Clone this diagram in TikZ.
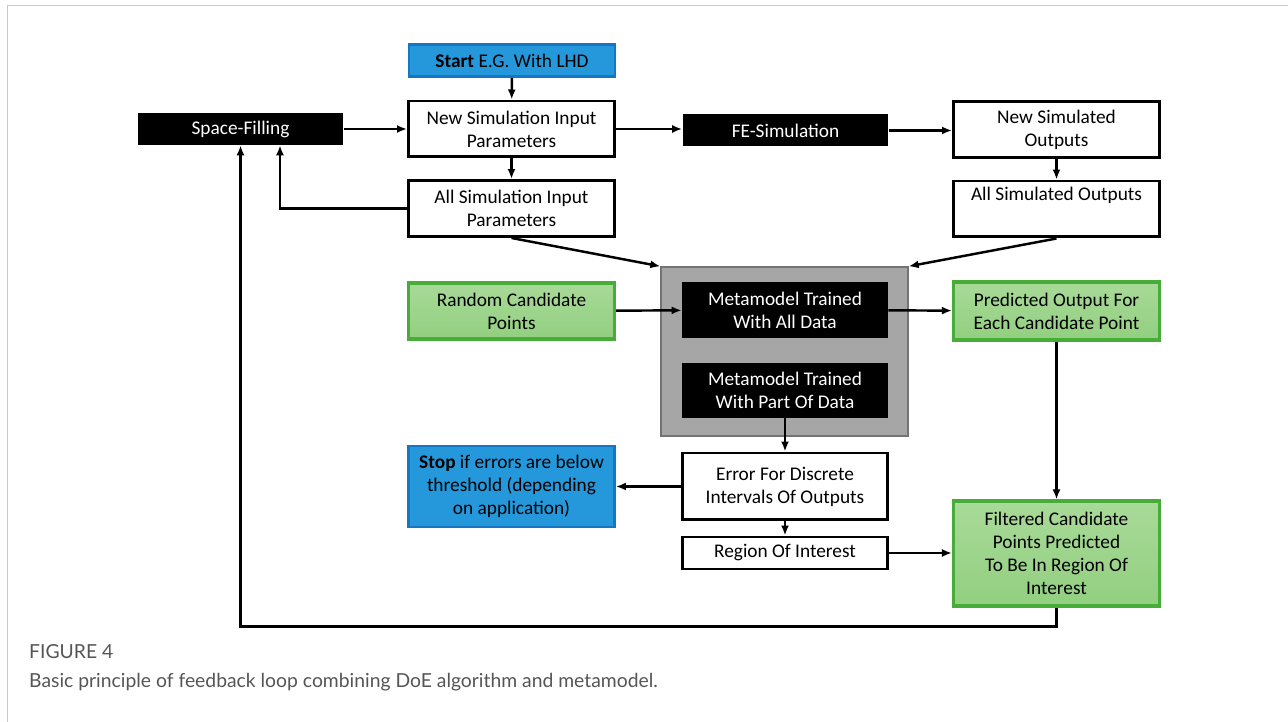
\documentclass[tikz,border=0pt]{standalone}
\usepackage{fontspec}
\setmainfont{Carlito}
\newfontfamily\capfont{Lato}
\usepackage{xcolor}
\usetikzlibrary{arrows.meta, positioning, calc}
\definecolor{startblue}{RGB}{36, 152, 218}
\definecolor{startblueline}{RGB}{22, 118, 196}
\definecolor{candgreen}{RGB}{146, 207, 128}
\definecolor{candgreentop}{RGB}{168, 218, 152}
\definecolor{candgreenline}{RGB}{72, 172, 56}
\definecolor{metagray}{RGB}{166, 166, 166}
\definecolor{metagrayline}{RGB}{115, 115, 115}
\definecolor{framegray}{RGB}{200, 200, 200}
\definecolor{captiongray}{RGB}{85, 85, 85}

\begin{document}
\begin{tikzpicture}[
        x=0.02cm, y=-0.02cm,
        font=\fontsize{11}{13}\selectfont,
        whitebox/.style={draw, line width=1.7pt, fill=white, minimum width=4.12cm, minimum height=1.12cm, align=center, inner sep=1pt},
        blackbox/.style={fill=black, text=white, minimum width=4.12cm, minimum height=0.64cm, align=center, inner sep=1pt},
        greenbox/.style={draw=candgreenline, line width=1.8pt, top color=candgreentop, bottom color=candgreen, minimum width=4.12cm, minimum height=1.12cm, align=center, inner sep=1pt},
        bluebox/.style={draw=startblueline, line width=1.6pt, fill=startblue, minimum width=4.12cm, minimum height=0.64cm, align=center, inner sep=1pt},
        arrow/.style={-{Latex[length=2mm, width=1.6mm]}, line width=1.4pt}
    ]
        \useasboundingbox (0,0) rectangle (1288,722);

        % page frame
        \draw[framegray, line width=1pt] (7.5,722) -- (7.5,5.5) -- (1288,5.5);

        % metamodel block (drawn first, as background)
        \node[draw=metagrayline, line width=0.8pt, fill=metagray, minimum width=4.94cm, minimum height=3.38cm] (meta) at (784.5,351.5) {};

        % input side
        \node[bluebox] (start) at (512,60.5) {\textbf{Start} E.G. With LHD};
        \node[blackbox] (space) at (240.5,129) {Space-Filling};
        \node[whitebox] (newin) at (511.5,129) {New Simulation Input\\Parameters};
        \node[whitebox] (allin) at (511.5,208.5) {All Simulation Input\\Parameters};

        % simulation side
        \node[blackbox] (fe) at (785.5,130.5) {FE-Simulation};
        \node[whitebox] (newout) at (1056.5,129.5) {New Simulated\\Outputs};
        \node[whitebox] (allout) at (1056.5,209) {All Simulated Outputs\\\strut};

        % metamodels
        \node[blackbox, minimum height=1.12cm] (metaall) at (785,310) {Metamodel Trained\\With All Data};
        \node[blackbox, minimum height=1.1cm] (metapart) at (785,390.5) {Metamodel Trained\\With Part Of Data};

        % candidates
        \node[greenbox] (random) at (511.5,311) {Random Candidate\\Points};
        \node[greenbox, minimum height=1.16cm] (pred) at (1056.5,311) {Predicted Output For\\Each Candidate Point};
        \node[greenbox, minimum height=2.1cm] (filt) at (1056.5,553.5) {Filtered Candidate\\Points Predicted\\To Be In Region Of\\Interest};

        % errors
        \node[bluebox, minimum height=1.62cm] (stop) at (511.5,486.5) {\textbf{Stop} if errors are below\\threshold (depending\\on application)};
        \node[whitebox, minimum height=1.34cm] (error) at (785,486.5) {Error For Discrete\\Intervals Of Outputs};
        \node[whitebox, minimum height=0.64cm] (roi) at (785,553) {Region Of Interest};

        % Arrows
        \draw[arrow] (start) -- (newin);
        \draw[arrow] (space) -- (newin);
        \draw[arrow] (newin) -- (newin -| fe.west);
        \draw[arrow] (fe) -- (fe -| newout.west);
        \draw[arrow] (newout) -- (allout);
        \draw[arrow] (newin) -- (allin);
        \draw[arrow] (allin.west) -| ([xshift=0.79cm]space.south);
        \draw[arrow] (allin.south) -- (meta.north west);
        \draw[arrow] (allout.south) -- (meta.north east);
        \draw[arrow] (random) -- (metaall);
        \draw[arrow] (metaall) -- (pred);
        \draw[arrow] (pred) -- (filt);
        \draw[arrow] (metapart) -- (error);
        \draw[arrow] (error) -- (stop);
        \draw[arrow] (error) -- (roi);
        \draw[arrow] (roi) -- (roi -| filt.west);

        % feedback loop
        \draw[arrow] (filt.south) -- ++(0,19) -| (space.south);

        % caption
        \node[anchor=west, text=captiongray, font=\capfont\fontsize{11}{13}\selectfont] (figno) at (23,652) {FIGURE 4};
        \node[anchor=west, text=captiongray, font=\capfont\fontsize{11}{13}\selectfont] (figcap) at (23,682) {Basic principle of feedback loop combining DoE algorithm and metamodel.};
    \end{tikzpicture}
\end{document}
